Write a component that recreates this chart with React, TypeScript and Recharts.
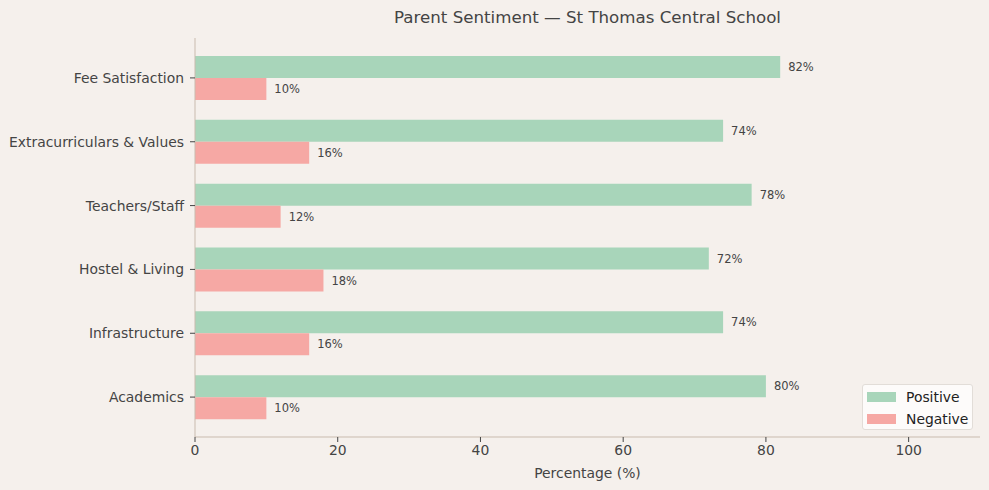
import React from 'react';
import { BarChart, Bar, XAxis, YAxis, LabelList } from 'recharts';

const categories = [
  'Fee Satisfaction',
  'Extracurriculars & Values',
  'Teachers/Staff',
  'Hostel & Living',
  'Infrastructure',
  'Academics',
];
const positiveValues = [82, 74, 78, 72, 74, 80];
const negativeValues = [10, 16, 12, 18, 16, 10];
const xTicks = [0, 20, 40, 60, 80, 100];

const data = categories.map((c, i) => ({
  category: c,
  Positive: positiveValues[i],
  Negative: negativeValues[i],
}));

const BG = '#f5f0ec';
const POS = '#a8d5ba';
const NEG = '#f6a8a4';
const AXIS = '#c9bbae';
const TEXT = '#444444';
const FONT = '"DejaVu Sans", sans-serif';

const legendItems = [
  { name: 'Positive', color: POS, top: 6 },
  { name: 'Negative', color: NEG, top: 28 },
];

const LegendBox = () => (
  <div
    style={{
      position: 'absolute',
      left: 862,
      top: 384,
      width: 111,
      height: 46,
      boxSizing: 'border-box',
      background: 'rgba(255,255,255,0.75)',
      border: '1px solid #e2ddd8',
      borderRadius: 3,
      fontFamily: FONT,
      fontSize: 13.9,
      color: '#222',
    }}
  >
    {legendItems.map((e) => (
      <div key={e.name} style={{ position: 'absolute', left: 4, top: e.top, display: 'flex', alignItems: 'center', height: 12 }}>
        <div style={{ width: 29, height: 10, background: e.color }} />
        <span style={{ marginLeft: 10, lineHeight: '12px' }}>{e.name}</span>
      </div>
    ))}
  </div>
);

export default function App() {
  return (
    <div style={{ position: 'fixed', left: 0, top: 0, width: 989, height: 490, background: BG }}>
      <div
        style={{
          position: 'absolute',
          top: 7,
          left: 195,
          width: 785,
          textAlign: 'center',
          fontFamily: FONT,
          fontSize: 16.67,
          color: TEXT,
          lineHeight: '22px',
        }}
      >
        Parent Sentiment — St Thomas Central School
      </div>
      <BarChart
        width={989}
        height={490}
        data={data}
        layout="vertical"
        margin={{ top: 38, right: 9, bottom: 0, left: 0 }}
        barGap={0}
        style={{ fontFamily: FONT, position: 'absolute', left: 0, top: 0 }}
      >
        <XAxis
          type="number"
          domain={[0, 110]}
          ticks={xTicks}
          allowDataOverflow
          height={53}
          stroke={AXIS}
          tickSize={5}
          tickMargin={3}
          tick={{ fill: TEXT, fontSize: 13.9, fontFamily: FONT }}
          tickLine={{ stroke: TEXT }}
          label={{ value: 'Percentage (%)', position: 'insideBottom', offset: 12, fill: TEXT, fontSize: 13.9, fontFamily: FONT }}
        />
        <YAxis
          type="category"
          dataKey="category"
          width={195}
          stroke={AXIS}
          tickSize={5}
          tickMargin={6}
          padding={{ top: 8, bottom: 8 }}
          tick={{ fill: TEXT, fontSize: 13.9, fontFamily: FONT }}
          tickLine={{ stroke: TEXT }}
        />
        <Bar dataKey="Positive" fill={POS} barSize={22} isAnimationActive={false}>
          <LabelList dataKey="Positive" position="right" offset={8} formatter={(v: number) => `${v}%`} style={{ fill: TEXT, fontSize: 11.5, fontFamily: FONT }} />
        </Bar>
        <Bar dataKey="Negative" fill={NEG} barSize={22} isAnimationActive={false}>
          <LabelList dataKey="Negative" position="right" offset={8} formatter={(v: number) => `${v}%`} style={{ fill: TEXT, fontSize: 11.5, fontFamily: FONT }} />
        </Bar>
      </BarChart>
      <LegendBox />
    </div>
  );
}
